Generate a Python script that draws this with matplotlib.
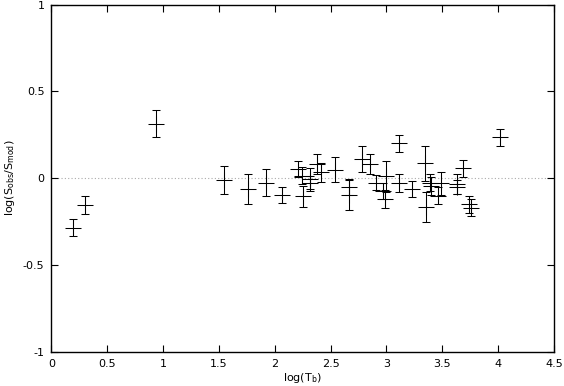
import numpy as np
import matplotlib.pyplot as plt

# log(T_b), log(S_obs/S_mod) and their errors
log_tb = [0.19, 0.30, 0.935, 1.547, 1.762, 1.918, 2.066, 2.21, 2.24, 2.25,
          2.314, 2.32, 2.374, 2.413, 2.538, 2.663, 2.663, 2.777, 2.851, 2.911,
          2.97, 2.99, 3.0, 3.115, 3.115, 3.225, 3.348, 3.357, 3.39, 3.40,
          3.46, 3.49, 3.628, 3.628, 3.687, 3.74, 3.762, 4.015]
log_ratio = [-0.285, -0.155, 0.315, -0.012, -0.063, -0.025, -0.098, 0.054, 0.015, -0.105,
             -0.006, -0.025, 0.082, 0.033, 0.05, -0.05, -0.098, 0.11, 0.082, -0.025,
             -0.073, -0.12, 0.01, -0.027, 0.2, -0.06, 0.085, -0.165, -0.025, -0.045,
             -0.1, -0.03, -0.033, -0.05, 0.056, -0.15, -0.169, 0.235]
ratio_err = [0.048, 0.052, 0.08, 0.08, 0.087, 0.078, 0.045, 0.048, 0.05, 0.06,
             0.065, 0.04, 0.06, 0.055, 0.074, 0.048, 0.087, 0.076, 0.057, 0.045,
             0.045, 0.05, 0.087, 0.05, 0.05, 0.046, 0.1, 0.087, 0.05, 0.05,
             0.048, 0.065, 0.06, 0.04, 0.047, 0.05, 0.05, 0.048]

fig = plt.figure(figsize=(5.64, 3.86), dpi=100)
ax = fig.add_axes([0.0913, 0.0889, 0.8907, 0.8989])

ax.axhline(0, color='#aaaaaa', lw=0.8, ls=(0, (1, 2)), zorder=1)
ax.errorbar(log_tb, log_ratio, yerr=ratio_err, fmt='+', color='black',
            ms=11, mew=0.75, elinewidth=0.75, capsize=3, capthick=0.75, zorder=3)

ax.set_xlim(0, 4.5)
ax.set_ylim(-1, 1)
ax.set_xticks(np.arange(0, 4.51, 0.5))
ax.set_xticklabels(['0', '0.5', '1', '1.5', '2', '2.5', '3', '3.5', '4', '4.5'])
ax.set_yticks([-1, -0.5, 0, 0.5, 1])
ax.set_yticklabels(['-1', '-0.5', '0', '0.5', '1'])
ax.tick_params(direction='in', length=5, width=0.8, labelsize=8,
               top=True, right=True, pad=5)
for s in ax.spines.values():
    s.set_linewidth(1.0)

ax.set_xlabel(r'log(T$_{\mathrm{b}}$)', fontsize=8, labelpad=2)
ax.set_ylabel(r'log(S$_{\mathrm{obs}}$/S$_{\mathrm{mod}}$)', fontsize=8, labelpad=4)

fig.savefig('out.png', dpi=100)
